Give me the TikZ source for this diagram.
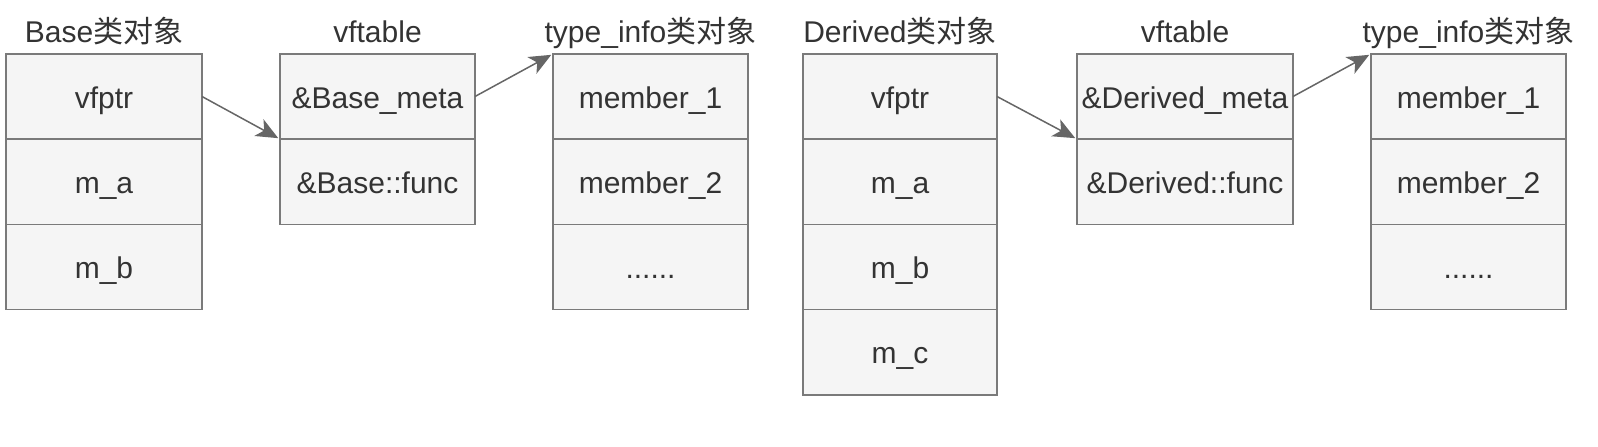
\documentclass[tikz,border=0pt]{standalone}
\usepackage{fontspec}
\setmainfont{Liberation Sans}
\newfontfamily\cjk{Noto Sans CJK SC}
\usetikzlibrary{positioning, arrows.meta}
\definecolor{cellfill}{HTML}{F5F5F5}
\definecolor{cellline}{HTML}{7A7A7A}
\definecolor{txt}{HTML}{333333}
\definecolor{ptrline}{HTML}{666666}

\begin{document}
\begin{tikzpicture}[x=1pt, y=1pt,
    cell/.style={draw=cellline, fill=cellfill, line width=1.5pt, outer sep=0pt,
      inner sep=0pt, minimum height=85.25pt, text height=26pt, text depth=3pt,
      text=txt, font=\fontsize{30}{36}\selectfont},
    title/.style={anchor=base, inner sep=0pt, text=txt, font=\fontsize{30}{36}\selectfont},
    ptr/.style={draw=ptrline, line width=1.5pt,
      -{Stealth[length=22pt, width=19pt, inset=6pt]}, shorten >=2pt}]
  \useasboundingbox (0,0) rectangle (1598,-447);

  % Base object
  \node [cell, minimum width=196pt] (bvfptr) at (104,-96.5) {vfptr};
  \node [cell, minimum width=196pt, below=0pt of bvfptr] (bma) {m\_a};
  \node [cell, minimum width=196pt, below=0pt of bma] (bmb) {m\_b};
  \node [title] at (104,-42) {Base{\cjk 类对象}};

  % Base vftable
  \node [cell, minimum width=195pt] (bmeta) at (377.5,-96.5) {\&Base\_meta};
  \node [cell, minimum width=195pt, below=0pt of bmeta] (bfunc) {\&Base::func};
  \node [title] at (377.5,-42) {vftable};

  % Base type_info
  \node [cell, minimum width=195pt] (binfoa) at (650.5,-96.5) {member\_1};
  \node [cell, minimum width=195pt, below=0pt of binfoa] (binfob) {member\_2};
  \node [cell, minimum width=195pt, below=0pt of binfob] (binfoc) {......};
  \node [title] at (650.5,-42) {type\_info{\cjk 类对象}};

  % Derived object
  \node [cell, minimum width=194pt] (dvfptr) at (900,-96.5) {vfptr};
  \node [cell, minimum width=194pt, below=0pt of dvfptr] (dma) {m\_a};
  \node [cell, minimum width=194pt, below=0pt of dma] (dmb) {m\_b};
  \node [cell, minimum width=194pt, below=0pt of dmb] (dmc) {m\_c};
  \node [title] at (900,-42) {Derived{\cjk 类对象}};

  % Derived vftable
  \node [cell, minimum width=216pt] (dmeta) at (1185,-96.5) {\&Derived\_meta};
  \node [cell, minimum width=216pt, below=0pt of dmeta] (dfunc) {\&Derived::func};
  \node [title] at (1185,-42) {vftable};

  % Derived type_info
  \node [cell, minimum width=195pt] (dinfoa) at (1468.5,-96.5) {member\_1};
  \node [cell, minimum width=195pt, below=0pt of dinfoa] (dinfob) {member\_2};
  \node [cell, minimum width=195pt, below=0pt of dinfob] (dinfoc) {......};
  \node [title] at (1468.5,-42) {type\_info{\cjk 类对象}};

  % pointers
  \draw [ptr] (bvfptr.east) -- (bmeta.south west);
  \draw [ptr] (bmeta.east) -- (binfoa.north west);
  \draw [ptr] (dvfptr.east) -- (dmeta.south west);
  \draw [ptr] (dmeta.east) -- (dinfoa.north west);
\end{tikzpicture}
\end{document}
